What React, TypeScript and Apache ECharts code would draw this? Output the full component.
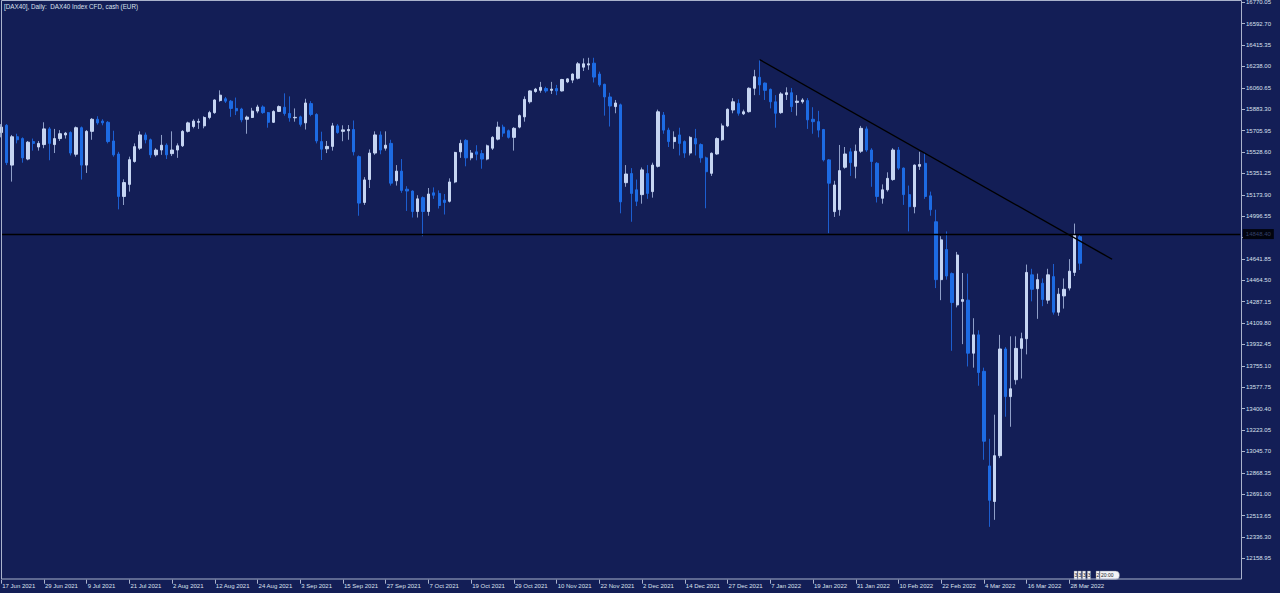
import React, { useEffect, useRef } from "react";
import * as echarts from "echarts";

// ---- chart data ----
const opens = [
  15690, 15750, 15420, 15655, 15640, 15470, 15615, 15570, 15590, 15720,
  15590, 15640, 15670, 15690, 15510, 15730, 15420, 15700, 15800, 15785,
  15775, 15620, 15512, 15160, 15260, 15450, 15560, 15670, 15630, 15505,
  15545, 15585, 15515, 15545, 15580, 15700, 15740, 15775, 15745, 15815,
  15855, 15955, 15970, 15950, 15890, 15885, 15800, 15815, 15868, 15902,
  15855, 15775, 15865, 15900, 15848, 15812, 15820, 15770, 15930, 15840,
  15615, 15555, 15575, 15745, 15700, 15705, 15715, 15490, 15110, 15300,
  15520, 15670, 15560, 15600, 15290, 15370, 15220, 15205, 15035, 15150,
  15035, 15190, 15185, 15130, 15120, 15280, 15530, 15625, 15480, 15530,
  15515, 15470, 15560, 15635, 15735, 15705, 15650, 15735, 15820, 15945,
  16030, 16040, 16055, 16040, 16055, 16035, 16110, 16125, 16140, 16232,
  16250, 16265, 16175, 16090, 15985, 15905, 15920, 15274, 15350, 15215,
  15175, 15350, 15200, 15410, 15835, 15710, 15615, 15670, 15615, 15520,
  15640, 15590, 15480, 15352, 15512, 15630, 15745, 15877, 15932, 15845,
  15863, 16057, 16148, 16100, 16048, 15945, 15855, 16005, 16020, 15940,
  15945, 15955, 15800, 15780, 15715, 15463, 15034, 15050, 15402, 15530,
  15410, 15535, 15720, 15545, 15435, 15145, 15215, 15300, 15545, 15395,
  15175, 15075, 15410, 15435, 15165, 14950, 14470, 14720, 14520, 14260,
  14290, 14300, 13860, 14012, 13710, 12925, 12630, 13010, 13895, 13500,
  13640, 13900, 13980, 14510, 14395, 14440, 14300, 14495, 14200, 14335,
  14400, 14530, 14826,
];
const closes = [
  15735, 15440, 15655, 15630, 15480, 15610, 15600, 15600, 15720, 15600,
  15640, 15680, 15685, 15520, 15730, 15420, 15700, 15800, 15770, 15770,
  15615, 15505, 15160, 15275, 15465, 15573, 15670, 15630, 15505, 15545,
  15585, 15505, 15545, 15580, 15700, 15770, 15785, 15782, 15815, 15855,
  15960, 16000, 15950, 15890, 15870, 15795, 15818, 15868, 15902, 15855,
  15775, 15865, 15905, 15848, 15812, 15816, 15758, 15935, 15840, 15620,
  15552, 15575, 15745, 15690, 15712, 15715, 15530, 15105, 15297, 15520,
  15670, 15545, 15585, 15270, 15370, 15210, 15205, 15035, 15140, 15035,
  15180, 15170, 15085, 15110, 15280, 15525, 15600, 15480, 15520, 15510,
  15470, 15580, 15650, 15735, 15685, 15650, 15725, 15830, 15965, 16035,
  16050, 16065, 16035, 16050, 16035, 16130, 16135, 16175, 16260, 16260,
  16260, 16150, 16085, 15985, 15910, 15935, 15115, 15346, 15185, 15120,
  15380, 15185, 15420, 15862, 15710, 15615, 15650, 15600, 15520, 15650,
  15595, 15480, 15365, 15518, 15640, 15745, 15883, 15945, 15850, 15862,
  16057, 16153, 16085, 16040, 15945, 15850, 16010, 16020, 15905, 15950,
  15960, 15795, 15780, 15710, 15463, 15270, 15255, 15374, 15512, 15440,
  15535, 15725, 15545, 15450, 15160, 15215, 15310, 15545, 15395, 15175,
  15075, 15420, 15425, 15160, 15050, 14470, 14800, 14500, 14280, 14674,
  14305, 13860, 14012, 13700, 13130, 12640, 13010, 13895, 13500, 13565,
  13900, 13980, 14530, 14390, 14470, 14305, 14510, 14200, 14350, 14390,
  14540, 14840, 14606,
];
const lows = [
  15650, 15420, 15283, 15600, 15440, 15460, 15540, 15540, 15560, 15460,
  15520, 15620, 15640, 15500, 15490, 15300, 15355, 15630, 15755, 15750,
  15600, 15490, 15053, 15089, 15200, 15440, 15545, 15600, 15480, 15490,
  15505, 15470, 15495, 15480, 15570, 15690, 15725, 15720, 15725, 15800,
  15845, 15945, 15935, 15820, 15835, 15775, 15680, 15810, 15850, 15845,
  15730, 15770, 15860, 15830, 15780, 15780, 15740, 15715, 15825, 15600,
  15462, 15520, 15540, 15680, 15618, 15630, 15500, 15000, 15090, 15230,
  15505, 15510, 15540, 15250, 15250, 15190, 15040, 14985, 14985, 14830,
  15000, 15140, 15060, 15010, 15110, 15270, 15480, 15410, 15460, 15460,
  15390, 15460, 15545, 15625, 15655, 15640, 15540, 15725, 15780, 15930,
  16020, 16020, 16020, 16010, 16000, 16030, 16100, 16100, 16130, 16200,
  16210, 16105, 16070, 15830, 15740, 15850, 15020, 15240, 14950, 15080,
  15100, 15140, 15150, 15400, 15680, 15570, 15555, 15500, 15480, 15500,
  15500, 15440, 15062, 15330, 15505, 15620, 15735, 15850, 15830, 15835,
  15855, 16000, 16000, 15960, 15890, 15730, 15845, 15960, 15860, 15830,
  15930, 15720, 15680, 15650, 15450, 14855, 14990, 15000, 15390, 15330,
  15310, 15520, 15530, 15240, 15110, 15100, 15200, 15290, 15380, 15090,
  14870, 15020, 15380, 15140, 15000, 14400, 14300, 14470, 13880, 14240,
  13935, 13750, 13740, 13590, 12976, 12420, 12478, 12990, 13333, 13250,
  13600, 13650, 13850, 14290, 14145, 14250, 14270, 14180, 14170, 14230,
  14380, 14500, 14550,
];
const highs = [
  15760, 15760, 15670, 15680, 15650, 15620, 15640, 15620, 15775, 15735,
  15720, 15710, 15695, 15700, 15740, 15740, 15710, 15810, 15825, 15800,
  15785, 15705, 15530, 15302, 15490, 15600, 15700, 15690, 15640, 15560,
  15670, 15600, 15700, 15600, 15710, 15780, 15800, 15805, 15825, 15870,
  15965, 16040, 15985, 15960, 15980, 15895, 15830, 15895, 15920, 15915,
  15860, 15875, 15915, 16015, 15990, 15890, 15830, 15970, 15950, 15850,
  15697, 15620, 15770, 15760, 15750, 15752, 15790, 15500, 15320, 15550,
  15700, 15700, 15700, 15630, 15420, 15470, 15245, 15210, 15170, 15160,
  15230, 15235, 15210, 15180, 15310, 15530, 15630, 15635, 15545, 15585,
  15545, 15590, 15660, 15780, 15755, 15715, 15735, 15840, 15990, 16040,
  16060, 16110, 16070, 16110, 16085, 16135, 16140, 16180, 16275, 16305,
  16310, 16310, 16195, 16095, 16020, 15960, 15930, 15420, 15395, 15300,
  15400, 15420, 15440, 15880, 15860, 15730, 15700, 15730, 15625, 15660,
  15720, 15600, 15490, 15525, 15650, 15765, 15890, 15975, 15965, 15880,
  16065, 16210, 16292, 16105, 16055, 16000, 16025, 16065, 16060, 16000,
  15975, 15975, 15900, 15870, 15720, 15470, 15290, 15587, 15570, 15560,
  15590, 15745, 15740, 15560, 15445, 15260, 15360, 15560, 15570, 15400,
  15250, 15425, 15530, 15520, 15200, 15050, 14830, 14870, 14530, 14700,
  14525, 14520, 14150, 14050, 13740, 13150, 13350, 14012, 13910, 14000,
  14000, 14030, 14595, 14560, 14520, 14480, 14560, 14600, 14400, 14480,
  14640, 14935, 14840,
];

// calendar of the bars (CFD closed on these weekdays)
const FIRST_DAY = "2021-06-17";
const CLOSED_DAYS = ["2021-12-24", "2021-12-31"];
const FUTURE_SLOTS = 30; // empty chart-shift space after the last bar
const MONTHS = ["Jan", "Feb", "Mar", "Apr", "May", "Jun", "Jul", "Aug", "Sep", "Oct", "Nov", "Dec"];
const LABEL_EVERY = 8;

// y axis (MT4 price scale)
const Y_MIN = 11981.6;
const Y_MAX = 16770.05;
const Y_STEP = 177.35;
const HIDDEN_TICK = 14819.2; // covered by the line's price tag

// annotations
const H_LINE_PRICE = 14848;
const H_LINE_TAG = "14848.40";
const TREND_FROM = [142, 16295];
const TREND_TO = [208, 14639];

const TITLE = "[DAX40], Daily:  DAX40 Index CFD, cash (EUR)";

// colours
const BG = "#131E56";
const BULL_BODY = "#C6D5F2";
const BULL_WICK = "#8F9FC8";
const BEAR_BODY = "#1D6BE3";
const BEAR_WICK = "#1C5ED0";
const FRAME = "#AAB3CC";
const TEXT = "#DCE1EE";
const FONT = "Liberation Sans";

function buildDays(start: string, count: number, skip: string[]): string[] {
  const out: string[] = [];
  const d = new Date(start + "T12:00:00Z");
  while (out.length < count) {
    const wd = d.getUTCDay();
    const iso = d.toISOString().slice(0, 10);
    if (wd !== 0 && wd !== 6 && !skip.includes(iso)) {
      out.push(`${d.getUTCDate()} ${MONTHS[d.getUTCMonth()]} ${d.getUTCFullYear()}`);
    }
    d.setUTCDate(d.getUTCDate() + 1);
  }
  return out;
}

export default function App() {
  const ref = useRef<HTMLDivElement>(null);

  useEffect(() => {
    if (!ref.current) return;
    const chart = echarts.init(ref.current, null, { renderer: "svg" });
    const n = opens.length;
    const categories = buildDays(FIRST_DAY, n + FUTURE_SLOTS, CLOSED_DAYS);
    const full = opens.map((o, i) => [o, closes[i], lows[i], highs[i]]);
    const bodies = opens.map((o, i) => [o, closes[i], Math.min(o, closes[i]), Math.max(o, closes[i])]);
    const showAt = (idx: number) => idx % LABEL_EVERY === 0 && idx < n;

    const option: any = {
      animation: false,
      backgroundColor: BG,
      grid: {
        left: 1.2,
        top: 2.3,
        width: 1239.1,
        height: 577.4,
        containLabel: false,
        outerBoundsMode: "none",
      },
      xAxis: {
        type: "category",
        data: categories,
        boundaryGap: false,
        axisLine: { show: false },
        axisTick: {
          show: true,
          interval: (idx: number) => showAt(idx),
          length: 4,
          lineStyle: { color: FRAME, width: 1 },
        },
        axisLabel: {
          interval: (idx: number) => showAt(idx),
          align: "left",
          margin: 3,
          fontSize: 6,
          fontFamily: FONT,
          color: TEXT,
          padding: [0, 0, 0, 1],
        },
        splitLine: { show: false },
      },
      yAxis: {
        type: "value",
        position: "right",
        offset: 1.7,
        min: Y_MIN,
        max: Y_MAX,
        interval: Y_STEP,
        scale: true,
        axisLine: { show: false },
        axisTick: { show: true, length: 3, lineStyle: { color: FRAME, width: 1 } },
        axisLabel: {
          margin: 4,
          fontSize: 6,
          fontFamily: FONT,
          color: TEXT,
          showMinLabel: false,
          formatter: (v: number) => (Math.abs(v - HIDDEN_TICK) < 0.01 ? "" : v.toFixed(2)),
        },
        splitLine: { show: false },
      },
      series: [
        {
          name: "wicks",
          type: "candlestick",
          data: full,
          barWidth: 0.1,
          silent: true,
          itemStyle: {
            color: BULL_WICK,
            color0: BEAR_WICK,
            borderColor: BULL_WICK,
            borderColor0: BEAR_WICK,
            borderColorDoji: BULL_WICK,
            borderWidth: 1,
          },
          z: 2,
        },
        {
          name: "bodies",
          type: "candlestick",
          data: bodies,
          barWidth: 2.8,
          silent: true,
          itemStyle: {
            color: BULL_BODY,
            color0: BEAR_BODY,
            borderColor: BULL_BODY,
            borderColor0: BEAR_BODY,
            borderColorDoji: BULL_BODY,
            borderWidth: 1,
          },
          z: 3,
        },
        {
          name: "trend",
          type: "line",
          data: [TREND_FROM, TREND_TO],
          symbol: "none",
          silent: true,
          lineStyle: { color: "#000000", width: 1.4 },
          z: 10,
          markLine: {
            silent: true,
            symbol: ["none", "none"],
            lineStyle: { color: "#000000", width: 1.4, type: "solid" },
            label: {
              show: true,
              position: "end",
              distance: 2.5,
              formatter: H_LINE_TAG,
              fontSize: 6,
              fontFamily: FONT,
              color: "#34406A",
              backgroundColor: "#02040E",
              padding: [2, 3, 2, 3],
            },
            data: [{ yAxis: H_LINE_PRICE }],
          },
        },
      ],
      graphic: [
        {
          type: "rect",
          silent: true,
          shape: { x: 1.5, y: 0.5, width: 1240, height: 578.5 },
          style: { fill: "none", stroke: FRAME, lineWidth: 1 },
          z: 20,
        },
        {
          type: "text",
          silent: true,
          x: 4,
          y: 3,
          style: {
            text: TITLE,
            fill: TEXT,
            fontSize: 6.3,
            fontFamily: FONT,
            textVerticalAlign: "top",
          },
          z: 20,
        },
        {
          type: "group",
          x: 1074,
          y: 571,
          silent: true,
          z: 20,
          children: [
            ...[0, 4, 8.4, 13.3].map((dx) => ({
              type: "rect",
              shape: { x: dx, y: 0, width: 3.3, height: 8.5 },
              style: { fill: "#F3F4F7", stroke: "#6A6F80", lineWidth: 0.4 },
            })),
            ...[0, 4, 8.4, 13.3].map((dx) => ({
              type: "text",
              x: dx + 0.5,
              y: 1.5,
              style: { text: "3", fill: "#1A1A1A", fontSize: 5, fontFamily: FONT },
            })),
            {
              type: "rect",
              shape: { x: 22, y: 0, width: 3.5, height: 8.5 },
              style: { fill: "#F3F4F7", stroke: "#6A6F80", lineWidth: 0.4 },
            },
            {
              type: "text",
              x: 22.6,
              y: 1.5,
              style: { text: "2", fill: "#1A1A1A", fontSize: 5, fontFamily: FONT },
            },
            {
              type: "rect",
              shape: { x: 26, y: 0, width: 19.5, height: 8.5, r: [0, 4, 4, 0] },
              style: { fill: "#F3F4F7", stroke: "#6A6F80", lineWidth: 0.4 },
            },
            {
              type: "text",
              x: 27,
              y: 1.6,
              style: { text: "20:00", fill: "#1A1A1A", fontSize: 5, fontFamily: FONT },
            },
          ],
        },
      ],
    };

    chart.setOption(option);
    return () => chart.dispose();
  }, []);

  return (
    <div
      ref={ref}
      style={{ position: "fixed", left: 0, top: 0, width: 1280, height: 593, background: BG }}
    />
  );
}
